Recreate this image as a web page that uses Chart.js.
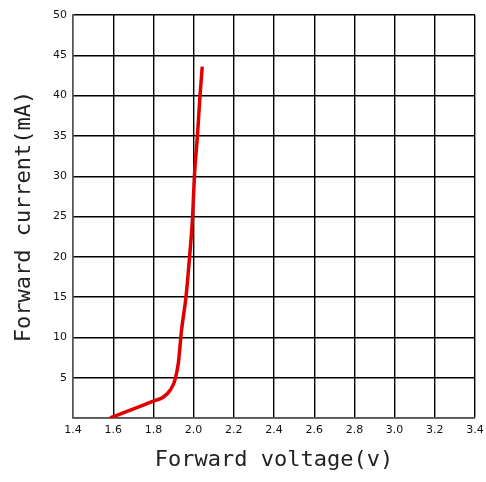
<!DOCTYPE html>
<html>
<head>
<meta charset="utf-8">
<script src="https://cdn.jsdelivr.net/npm/chart.js@4/dist/chart.umd.min.js"></script>
<style>
  body { margin: 0; background: #fff; }
  canvas { display: block; }
</style>
</head>
<body>
<canvas id="chart" width="486" height="482"></canvas>
<script>
// podaci ocitani sa slike
const napon = [1.585, 1.75, 1.8, 1.85, 1.885, 1.907, 1.924, 1.94, 1.962, 1.98, 1.995, 2.004, 2.019, 2.032, 2.043];
const struja = [0, 1.6, 2.1, 2.6, 3.5, 4.7, 6.8, 10.9, 15, 20, 25, 30, 35, 40, 43.6];

const xTicks = [1.4, 1.6, 1.8, 2.0, 2.2, 2.4, 2.6, 2.8, 3.0, 3.2, 3.4];
const yTicks = [0, 5, 10, 15, 20, 25, 30, 35, 40, 45, 50];

const tocke = napon.map((v, i) => ({ x: v, y: struja[i] }));

const tickFont = { family: 'DejaVu Sans', size: 11 };
const titleFont = { family: 'DejaVu Sans Mono', size: 22 };

new Chart(document.getElementById('chart'), {
  type: 'scatter',
  data: {
    datasets: [{
      data: tocke,
      showLine: true,
      borderColor: '#e00000',
      borderWidth: 3.5,
      pointRadius: 0,
      cubicInterpolationMode: 'monotone',
      fill: false
    }]
  },
  options: {
    responsive: false,
    animation: false,
    layout: { padding: { left: 3, right: 11, top: 15, bottom: 0 } },
    plugins: { legend: { display: false }, tooltip: { enabled: false } },
    scales: {
      x: {
        type: 'linear',
        min: xTicks[0],
        max: xTicks[xTicks.length - 1],
        afterBuildTicks: s => { s.ticks = xTicks.map(v => ({ value: v })); },
        afterFit: s => {
          s.height = 64;
          s.paddingRight = 0;
          s.paddingLeft = 0;
        },
        grid: { color: '#000', lineWidth: 1.4, drawTicks: false },
        border: { color: '#555', width: 1.4 },
        ticks: {
          padding: 6,
          color: '#111',
          font: tickFont,
          maxRotation: 0,
          callback: v => v.toFixed(1)
        },
        title: {
          display: true,
          text: 'Forward voltage(v)',
          color: '#222',
          font: titleFont,
          padding: { top: 0, bottom: 9 }
        }
      },
      y: {
        min: yTicks[0],
        max: yTicks[yTicks.length - 1],
        afterBuildTicks: s => { s.ticks = yTicks.map(v => ({ value: v })); },
        afterFit: s => { s.width = 70; },
        grid: { color: '#000', lineWidth: 1.4, drawTicks: false },
        border: { color: '#555', width: 1.4 },
        ticks: {
          padding: 6,
          color: '#111',
          font: tickFont,
          callback: v => (v === 0 ? '' : v)
        },
        title: {
          display: true,
          text: 'Forward current(mA)',
          color: '#222',
          font: titleFont,
          padding: { top: 8, bottom: 0 }
        }
      }
    }
  }
});
</script>
</body>
</html>
